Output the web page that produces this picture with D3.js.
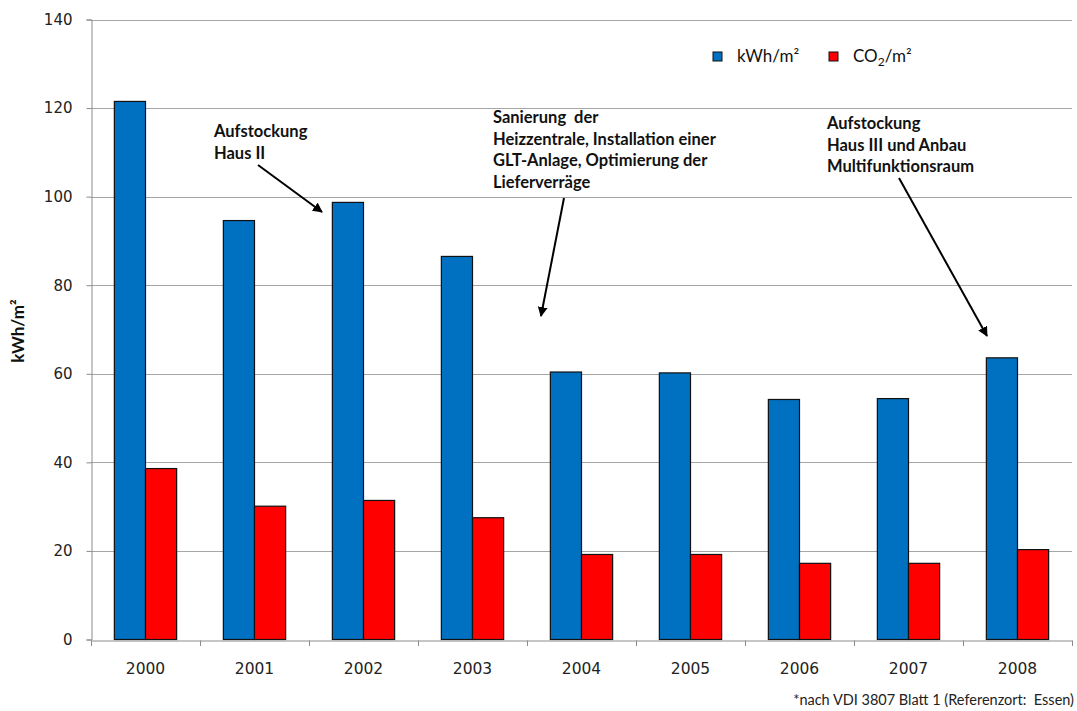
<!DOCTYPE html>
<html><head><meta charset="utf-8">
<script src="https://cdn.jsdelivr.net/npm/d3@7"></script>
<style>body{margin:0;background:#fff}svg{display:block}</style>
</head><body>
<svg id="c" width="1077" height="711"></svg>
<script>
const years = ["2000","2001","2002","2003","2004","2005","2006","2007","2008"];
const kwh = [121.5, 94.6, 98.7, 86.5, 60.4, 60.2, 54.2, 54.4, 63.6];
const co2 = [38.6, 30.1, 31.4, 27.5, 19.2, 19.2, 17.2, 17.2, 20.3];
const yTicks = [0, 20, 40, 60, 80, 100, 120, 140];
const seriesNames = ["kWh/m²", "CO2/m²"];
const colors = ["#0070C0", "#FF0000"];

const svg = d3.select("#c");
const m = {left: 91, right: 1072, top: 19.5, bottom: 639.5};
const x = d3.scaleBand().domain(years).range([m.left, m.right]).paddingInner(0).paddingOuter(0);
const y = d3.scaleLinear().domain([0, 140]).range([m.bottom, m.top]);
const barW = x.bandwidth() / 3.5;

// gridlines
svg.append("g").selectAll("line").data(yTicks.slice(1)).join("line")
  .attr("x1", m.left).attr("x2", m.right)
  .attr("y1", d => Math.round(y(d)) + 0.5).attr("y2", d => Math.round(y(d)) + 0.5)
  .attr("stroke", "#a6a6a6").attr("stroke-width", 1);

// bars
const series = [kwh, co2];
series.forEach((vals, si) => {
  svg.append("g").selectAll("rect").data(years).join("rect")
    .attr("x", (d) => x(d) + x.bandwidth() / 2 - barW + si * barW)
    .attr("y", (d, i) => y(vals[i]))
    .attr("width", barW)
    .attr("height", (d, i) => y(0) - y(vals[i]))
    .attr("fill", colors[si]).attr("stroke", "#111").attr("stroke-width", 1.2);
});

// y axis
const yAxis = d3.axisLeft(y).tickValues(yTicks).tickSize(5).tickPadding(14).tickFormat(d3.format("d"));
const ya = svg.append("g").attr("transform", `translate(${m.left + 0.5},0)`).call(yAxis);
ya.select(".domain").attr("stroke", "#8c8c8c");
ya.selectAll(".tick line").attr("stroke", "#8c8c8c");
ya.selectAll("text").attr("font-family", "DejaVu Sans").attr("font-size", 15).attr("fill", "#222");

// x axis
const xa = svg.append("g").attr("transform", `translate(0,${Math.round(y(0)) + 0.5})`)
  .call(d3.axisBottom(x).tickSize(0).tickPadding(22));
xa.select(".domain").attr("stroke", "#8c8c8c");
xa.selectAll("text").attr("font-family", "DejaVu Sans").attr("font-size", 15.5).attr("fill", "#222");
// category boundary ticks
svg.append("g").selectAll("line").data(years.concat(["end"])).join("line")
  .attr("x1", (d, i) => Math.round(m.left + i * x.bandwidth()) + 0.5)
  .attr("x2", (d, i) => Math.round(m.left + i * x.bandwidth()) + 0.5)
  .attr("y1", Math.round(y(0)) + 0.5).attr("y2", Math.round(y(0)) + 6)
  .attr("stroke", "#8c8c8c");

// y title
svg.append("text").attr("transform", "translate(24,331) rotate(-90)")
  .attr("text-anchor", "middle").attr("font-family", "Lato").attr("font-weight", "bold")
  .attr("font-size", 17).attr("fill", "#111").text("kWh/m²");

// legend
const lg = svg.append("g").attr("font-family", "Lato").attr("font-size", 17).attr("fill", "#111");
lg.append("rect").attr("x", 713).attr("y", 52).attr("width", 9).attr("height", 9).attr("fill", colors[0]).attr("stroke", "#111");
lg.append("text").attr("x", 737).attr("y", 62).text("kWh/m²");
lg.append("rect").attr("x", 829).attr("y", 52).attr("width", 9).attr("height", 9).attr("fill", colors[1]).attr("stroke", "#111");
const t2 = lg.append("text").attr("x", 853).attr("y", 62);
t2.append("tspan").text("CO");
t2.append("tspan").attr("font-size", 12).attr("dy", 4).text("2");
t2.append("tspan").attr("dy", -4).text("/m²");

// annotations
const notes = [
  {x: 214, y: 137, lines: ["Aufstockung", "Haus II"]},
  {x: 493, y: 123, lines: ["Sanierung  der", "Heizzentrale, Installation einer", "GLT-Anlage, Optimierung der", "Lieferverräge"]},
  {x: 827, y: 129, lines: ["Aufstockung", "Haus III und Anbau", "Multifunktionsraum"]}
];
notes.forEach(n => {
  const t = svg.append("text").attr("font-family", "Lato").attr("font-weight", "bold")
    .attr("font-size", 16.5).attr("fill", "#111").attr("xml:space", "preserve");
  n.lines.forEach((l, i) => t.append("tspan").attr("x", n.x).attr("y", n.y + i * 21.7).text(l));
});

svg.append("defs").append("marker").attr("id", "ah").attr("viewBox", "0 0 10 10")
  .attr("refX", 9).attr("refY", 5).attr("markerWidth", 5).attr("markerHeight", 5)
  .attr("orient", "auto").append("path").attr("d", "M0,0L10,5L0,10z").attr("fill", "#000");
const arrows = [[258,165,322,212],[564,198,541,316],[899,178,987,336]];
svg.append("g").selectAll("line").data(arrows).join("line")
  .attr("x1", d => d[0]).attr("y1", d => d[1]).attr("x2", d => d[2]).attr("y2", d => d[3])
  .attr("stroke", "#000").attr("stroke-width", 2).attr("marker-end", "url(#ah)");

// footnote
svg.append("text").attr("x", 1074).attr("y", 705).attr("text-anchor", "end")
  .attr("font-family", "Lato").attr("font-size", 14.5).attr("fill", "#222").attr("xml:space", "preserve")
  .text("*nach VDI 3807 Blatt 1 (Referenzort:  Essen)");
</script>
</body></html>
